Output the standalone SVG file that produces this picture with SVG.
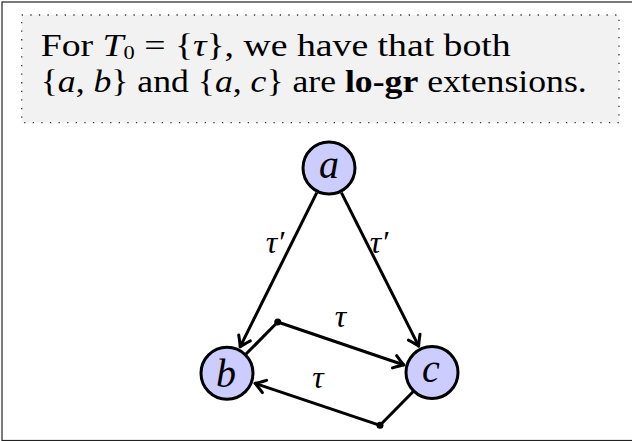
<svg xmlns="http://www.w3.org/2000/svg" width="632" height="441" viewBox="0 0 632 441">
<style>
.txt{font-family:"Liberation Serif","Times New Roman",serif;fill:#000}
.it{font-style:italic}
.node{fill:#ccccff;stroke:#000;stroke-width:3}
.edge{fill:none;stroke:#000;stroke-width:3;stroke-linejoin:round}
.lbl{font-family:"Liberation Serif","Times New Roman",serif;font-style:italic;font-size:32px;text-anchor:middle}
.nl{font-family:"Liberation Serif","Times New Roman",serif;font-style:italic;font-size:40px;text-anchor:middle}
</style>
<defs>
<marker id="arr" markerUnits="userSpaceOnUse" markerWidth="20" markerHeight="20" refX="0" refY="0" viewBox="-12 -10 14 20" orient="auto" overflow="visible">
<path d="M -10 -6.5 Q -3 -1.5 0 0 Q -3 1.5 -10 6.5" fill="none" stroke="#000" stroke-width="3" stroke-linecap="round" stroke-linejoin="round"/>
</marker>
</defs>
<rect x="2" y="2" width="632" height="438.5" fill="#fff" stroke="#222" stroke-width="1.2"/>
<g id="caption">
<rect x="21.7" y="15" width="597.3" height="107.7" fill="#f2f2f2" stroke="#333" stroke-width="1.3" stroke-dasharray="1.3 7.3"/>
<text class="txt" x="40.7" y="56" font-size="32" textLength="470" lengthAdjust="spacingAndGlyphs">For <tspan class="it">T</tspan><tspan font-size="19" dy="3">0</tspan><tspan dy="-3"> = {</tspan><tspan class="it">τ</tspan>}, we have that both</text>
<text class="txt" x="40.7" y="92" font-size="31" textLength="546" lengthAdjust="spacingAndGlyphs">{<tspan class="it">a</tspan>, <tspan class="it">b</tspan>} and {<tspan class="it">a</tspan>, <tspan class="it">c</tspan>} are <tspan font-weight="bold">lo-gr</tspan> extensions.</text>
</g>
<g id="connectors">
<path class="edge" d="M 316.8 192.6 L 240.1 346.9" marker-end="url(#arr)"/>
<path class="edge" d="M 341.4 192.6 L 418.7 346.2" marker-end="url(#arr)"/>
<path class="edge" d="M 245.3 354.8 L 277.7 322 L 404 365" marker-end="url(#arr)"/>
<path class="edge" d="M 413.8 391 L 380 425.3 L 255 383.3" marker-end="url(#arr)"/>
<circle cx="277.7" cy="322" r="3.5" fill="#000"/>
<circle cx="380" cy="425.3" r="3.5" fill="#000"/>
<text class="lbl" x="275" y="253">τ′</text>
<text class="lbl" x="379" y="253">τ′</text>
<text class="lbl" x="340.5" y="327">τ</text>
<text class="lbl" x="318" y="388">τ</text>
</g>
<g id="node-a">
<circle class="node" cx="329" cy="168" r="26"/>
<text class="nl" x="329" y="178">a</text>
</g>
<g id="node-b">
<circle class="node" cx="227" cy="373.3" r="26"/>
<text class="nl" x="226" y="387">b</text>
</g>
<g id="node-c">
<circle class="node" cx="432" cy="372.5" r="26"/>
<text class="nl" x="431" y="381.5">c</text>
</g>
</svg>
